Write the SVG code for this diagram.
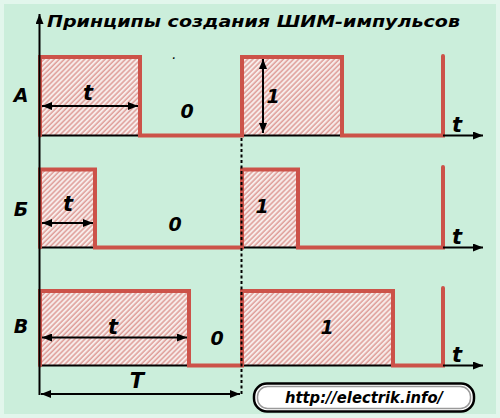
<svg xmlns="http://www.w3.org/2000/svg" width="500" height="418" viewBox="0 0 500 418">
<defs>
<pattern id="hatch" patternUnits="userSpaceOnUse" width="3.6" height="3.6" patternTransform="rotate(45)">
<rect width="3.6" height="3.6" fill="#f7ecea"/>
<line x1="1" y1="0" x2="1" y2="3.6" stroke="#d98a84" stroke-width="1.2"/>
</pattern>
<marker id="ah" markerWidth="10" markerHeight="8" refX="10" refY="4" orient="auto-start-reverse" markerUnits="userSpaceOnUse">
<path d="M0,0 L10,4 L0,8 Z" fill="#000"/>
</marker>
</defs>
<style>
.bg{fill:#cbeedb;stroke:#e2f6ec;stroke-width:4}
.wave{fill:none;stroke:#cc5249;stroke-width:4;stroke-linejoin:miter;stroke-linecap:round}
.base{stroke:#000;stroke-width:2;fill:none}
.arr{stroke:#000;stroke-width:2;fill:none}
.dot{stroke:#000;stroke-width:2;stroke-dasharray:3 2.5;fill:none}
.lbl{font-family:"DejaVu Sans",Verdana,sans-serif;font-weight:bold;font-style:italic;fill:#000;text-anchor:middle}
.big{font-size:21px}
.mid{font-size:19px}
.title{font-size:16.5px;text-anchor:start}
.url{font-size:15px}
</style>
<rect class="bg" x="2" y="2" width="496" height="414"/>
<g id="title"><text class="lbl title" x="47" y="27" textLength="413" lengthAdjust="spacingAndGlyphs">Принципы создания ШИМ-импульсов</text></g>
<g id="dot"><text class="lbl" x="174" y="59" style="font-size:8px">.</text></g>

<g id="signal-A">
<rect x="40" y="57" width="100" height="78.5" fill="url(#hatch)"/>
<rect x="242" y="57" width="100" height="78.5" fill="url(#hatch)"/>
<path class="base" d="M40,135.5 H140 M242,135.5 H342"/>
<path class="wave" d="M40,135.5 V57 H140 V135.5 H242 V57 H342 V135.5 H443 V56"/>
<text class="lbl mid" x="21" y="102">А</text>
<text class="lbl big" x="88" y="100">t</text>
<text class="lbl mid" x="187" y="118">0</text>
<text class="lbl mid" x="273" y="103">1</text>
<text class="lbl big" x="457" y="132">t</text>
</g>

<g id="signal-B">
<rect x="40" y="169.5" width="55" height="78" fill="url(#hatch)"/>
<rect x="242" y="169.5" width="56" height="78" fill="url(#hatch)"/>
<path class="base" d="M40,247.5 H95 M242,247.5 H298"/>
<path class="wave" d="M40,247.5 V169.5 H95 V247.5 H242 V169.5 H298 V247.5 H443 V167"/>
<text class="lbl mid" x="21" y="216">Б</text>
<text class="lbl big" x="68" y="211">t</text>
<text class="lbl mid" x="175" y="231">0</text>
<text class="lbl mid" x="262" y="213">1</text>
<text class="lbl big" x="457" y="244">t</text>
</g>

<g id="signal-V">
<rect x="40" y="291" width="149" height="74.5" fill="url(#hatch)"/>
<rect x="242" y="291" width="151" height="74.5" fill="url(#hatch)"/>
<path class="base" d="M40,365.5 H189 M242,365.5 H393"/>
<path class="wave" d="M40,365.5 V291 H189 V365.5 H242 V291 H393 V365.5 H443 V288"/>
<text class="lbl mid" x="21" y="333">В</text>
<text class="lbl big" x="113" y="334">t</text>
<text class="lbl mid" x="217" y="345">0</text>
<text class="lbl mid" x="327" y="334">1</text>
<text class="lbl big" x="457" y="362">t</text>
<text class="lbl big" x="137" y="388">T</text>
</g>

<g id="connectors">
<line class="arr" x1="39.5" y1="395" x2="39.5" y2="14" marker-end="url(#ah)"/>
<line class="arr" x1="443" y1="135.5" x2="483" y2="135.5" marker-end="url(#ah)"/>
<line class="arr" x1="443" y1="247.5" x2="483" y2="247.5" marker-end="url(#ah)"/>
<line class="arr" x1="443" y1="365.5" x2="483" y2="365.5" marker-end="url(#ah)"/>
<line class="arr" x1="42" y1="106" x2="138" y2="106" marker-start="url(#ah)" marker-end="url(#ah)"/>
<line class="arr" x1="263" y1="59" x2="263" y2="133" marker-start="url(#ah)" marker-end="url(#ah)"/>
<line class="arr" x1="42" y1="223" x2="93" y2="223" marker-start="url(#ah)" marker-end="url(#ah)"/>
<line class="arr" x1="42" y1="337.5" x2="187" y2="337.5" marker-start="url(#ah)" marker-end="url(#ah)"/>
<line class="arr" x1="41" y1="394" x2="240" y2="394" marker-start="url(#ah)" marker-end="url(#ah)"/>
<line class="dot" x1="241.5" y1="138" x2="241.5" y2="395"/>
</g>

<g id="url">
<rect x="254" y="383.5" width="220" height="28" rx="13" fill="#fff" stroke="#000" stroke-width="2.5"/>
<rect x="257.5" y="386.5" width="213" height="22" rx="10" fill="none" stroke="#9a9a9a" stroke-width="1.5"/>
<text class="lbl url" x="364" y="403" textLength="158" lengthAdjust="spacingAndGlyphs">http://electrik.info/</text>
</g>
</svg>
